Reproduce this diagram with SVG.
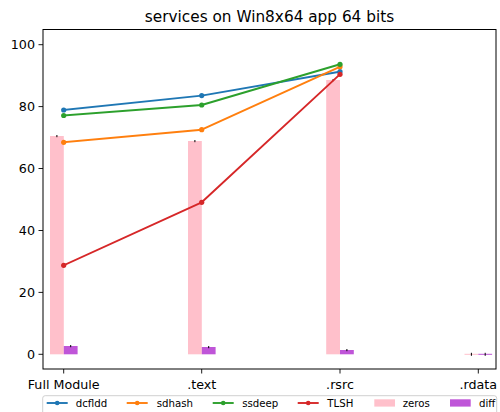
<svg xmlns="http://www.w3.org/2000/svg" width="500" height="412" viewBox="0 0 500 412">
<defs>
<style>
text{font-family:"DejaVu Sans","Liberation Sans",sans-serif;fill:#000}
.tick{font-size:12.7px}
.title{font-size:15.3px}
.leg{font-size:10.2px}
.ln{fill:none;stroke-width:1.9;stroke-linejoin:round;stroke-linecap:square}
.tk{stroke:#000;stroke-width:0.9}
.err{stroke:#000;stroke-width:1}
.zeros{fill:#ffc0cb}
.diff{fill:#bf55d8}
</style>
</defs>
<rect width="500" height="412" fill="#fff"/>
<text class="title" x="269.5" y="21.5" text-anchor="middle">services on Win8x64 app 64 bits</text>

<g id="bars">
<rect class="zeros" x="50" y="136" width="13.8" height="218.3"/>
<rect class="diff" x="63.8" y="346" width="13.8" height="8.3"/>
<rect class="zeros" x="188" y="141" width="13.8" height="213.3"/>
<rect class="diff" x="201.8" y="347" width="13.8" height="7.3"/>
<rect class="zeros" x="326.2" y="80" width="13.8" height="274.3"/>
<rect class="diff" x="340" y="350" width="13.8" height="4.3"/>
<rect class="zeros" x="464.5" y="353.8" width="13.8" height="1"/>
<rect class="diff" x="478.3" y="353.8" width="13.8" height="1"/>
<path class="err" d="M56.9 135V137.2M70.7 345V347.2M194.9 140V142.2M208.7 346V348.2M333.1 79V81.2M346.9 349V351.2M471.4 352.8V355.8M485.2 352.8V355.8"/>
</g>

<g id="connectors">
<polyline id="dcfldd" class="ln" stroke="#1f77b4" points="63.7,110 201.7,95.6 340,71.7"/>
<polyline id="sdhash" class="ln" stroke="#ff7f0e" points="63.7,142.3 201.7,129.7 340,66.7"/>
<polyline id="ssdeep" class="ln" stroke="#2ca02c" points="63.7,115.5 201.7,105 340,64.3"/>
<polyline id="TLSH" class="ln" stroke="#d62728" points="63.7,265.3 201.7,202.3 340,74.3"/>
</g>

<g id="markers">
<g fill="#1f77b4"><circle cx="63.7" cy="110" r="2.6"/><circle cx="201.7" cy="95.6" r="2.6"/><circle cx="340" cy="71.7" r="2.6"/></g>
<g fill="#ff7f0e"><circle cx="63.7" cy="142.3" r="2.6"/><circle cx="201.7" cy="129.7" r="2.6"/><circle cx="340" cy="66.7" r="2.6"/></g>
<g fill="#2ca02c"><circle cx="63.7" cy="115.5" r="2.6"/><circle cx="201.7" cy="105" r="2.6"/><circle cx="340" cy="64.3" r="2.6"/></g>
<g fill="#d62728"><circle cx="63.7" cy="265.3" r="2.6"/><circle cx="201.7" cy="202.3" r="2.6"/><circle cx="340" cy="74.3" r="2.6"/></g>
</g>

<g id="axes">
<rect x="43" y="29.5" width="453" height="339.5" fill="none" stroke="#000" stroke-width="1"/>
<path class="tk" d="M38.5 354.3H43M38.5 292.4H43M38.5 230.5H43M38.5 168.5H43M38.5 106.6H43M38.5 44.7H43"/>
<path class="tk" d="M63.7 369V373.5M201.7 369V373.5M340 369V373.5M478.3 369V373.5"/>
<g class="tick" text-anchor="end">
<text x="35" y="358.9">0</text>
<text x="35" y="297">20</text>
<text x="35" y="235.1">40</text>
<text x="35" y="173.1">60</text>
<text x="35" y="111.2">80</text>
<text x="35" y="49.3">100</text>
</g>
<g class="tick" text-anchor="middle">
<text x="63.7" y="388.5">Full Module</text>
<text x="201.7" y="388.5">.text</text>
<text x="340" y="388.5">.rsrc</text>
<text x="478.3" y="388.5">.rdata</text>
</g>
</g>

<g id="legend">
<rect x="42.7" y="395.7" width="454" height="25" rx="2.5" fill="#fff" fill-opacity="0.8" stroke="#d0d0d0" stroke-width="1"/>
<g class="leg">
<path d="M46.7 403H67.7" stroke="#1f77b4" stroke-width="1.9"/><circle cx="57.2" cy="403" r="2.3" fill="#1f77b4"/>
<text x="75.7" y="406.6">dcfldd</text>
<path d="M126.7 403H147.7" stroke="#ff7f0e" stroke-width="1.9"/><circle cx="137.2" cy="403" r="2.3" fill="#ff7f0e"/>
<text x="156.7" y="406.6">sdhash</text>
<path d="M212.7 403H233.7" stroke="#2ca02c" stroke-width="1.9"/><circle cx="223.2" cy="403" r="2.3" fill="#2ca02c"/>
<text x="242.2" y="406.6">ssdeep</text>
<path d="M297.7 403H318.7" stroke="#d62728" stroke-width="1.9"/><circle cx="308.2" cy="403" r="2.3" fill="#d62728"/>
<text x="327.3" y="406.6">TLSH</text>
<rect class="zeros" x="374.3" y="399.3" width="20.7" height="7.3"/>
<text x="402.7" y="406.6">zeros</text>
<rect class="diff" x="450" y="399.3" width="20.7" height="7.3"/>
<text x="479" y="406.6">diff</text>
</g>
</g>
</svg>
